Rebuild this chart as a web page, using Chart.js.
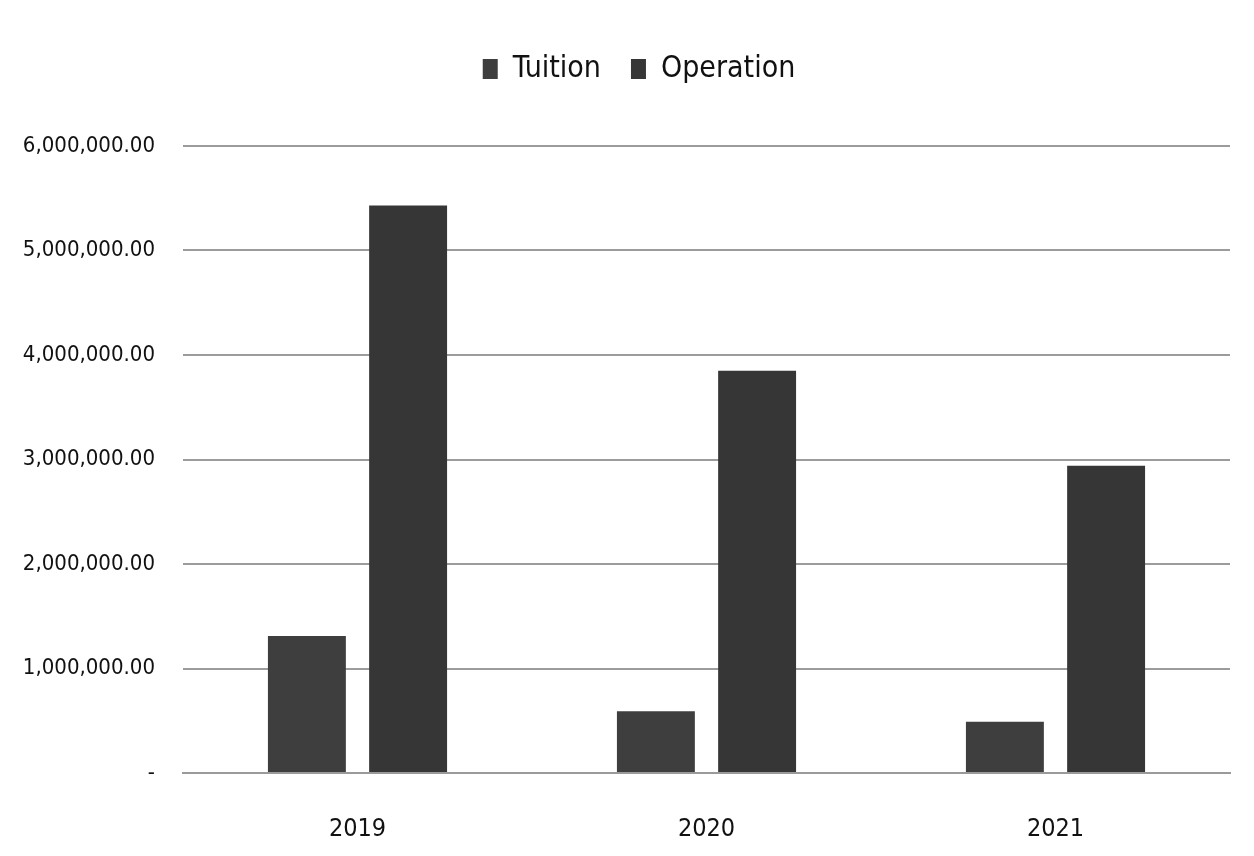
<!DOCTYPE html>
<html>
<head>
<meta charset="utf-8">
<script src="https://cdn.jsdelivr.net/npm/chart.js@4"></script>
<style>
html,body{margin:0;padding:0;background:#fff;}
#wrap{width:1254px;height:856px;position:relative;}
</style>
</head>
<body>
<div id="wrap"><canvas id="c" width="1254" height="856"></canvas></div>
<script>
const categories = ['2019', '2020', '2021'];
const tuition = [1310000, 590000, 490000];
const operation = [5430000, 3850000, 2940000];
const yTickLabels = ['-', '1,000,000.00', '2,000,000.00', '3,000,000.00', '4,000,000.00', '5,000,000.00', '6,000,000.00'];

const FONT = "'Liberation Sans Narrow', 'DejaVu Sans Condensed', 'Open Sans', sans-serif";

const legendPad = {
  id: 'legendPad',
  beforeInit(chart) {
    const orig = chart.legend.fit;
    chart.legend.fit = function () {
      orig.call(this);
      this.height += 52;
    };
  },
  afterLayout(chart) {
    chart.legend.left += 24;
    chart.legend.right += 24;
  }
};

new Chart(document.getElementById('c'), {
  type: 'bar',
  data: {
    labels: categories,
    datasets: [
      { label: 'Tuition', data: tuition, backgroundColor: '#3e3e3e', borderWidth: 0 },
      { label: 'Operation', data: operation, backgroundColor: '#363636', borderWidth: 0 }
    ]
  },
  options: {
    responsive: false,
    animation: false,
    devicePixelRatio: 1,
    layout: { padding: { top: 24, right: 24, bottom: 10, left: 0 } },
    datasets: { bar: { categoryPercentage: 0.58, barPercentage: 0.77 } },
    plugins: {
      legend: {
        position: 'top',
        labels: {
          font: { family: FONT, size: 30 },
          color: '#111',
          boxWidth: 15,
          boxHeight: 20,
          padding: 30
        }
      },
      tooltip: { enabled: false }
    },
    scales: {
      x: {
        afterFit(scale) { scale.height = 73; },
        grid: { display: false, drawTicks: false },
        border: { display: true, color: '#9a9a9a', width: 2 },
        ticks: { font: { family: FONT, size: 25 }, color: '#111', padding: 41 }
      },
      y: {
        min: 0,
        max: 6000000,
        afterFit(scale) { scale.width = 183; },
        grid: { color: '#9c9c9c', lineWidth: 2, drawTicks: false },
        border: { display: false },
        ticks: {
          stepSize: 1000000,
          padding: 28,
          font: { family: FONT, size: 22 },
          color: '#111',
          callback: function (value) { return yTickLabels[Math.round(value / 1000000)]; }
        }
      }
    }
  },
  plugins: [legendPad]
});
</script>
</body>
</html>
